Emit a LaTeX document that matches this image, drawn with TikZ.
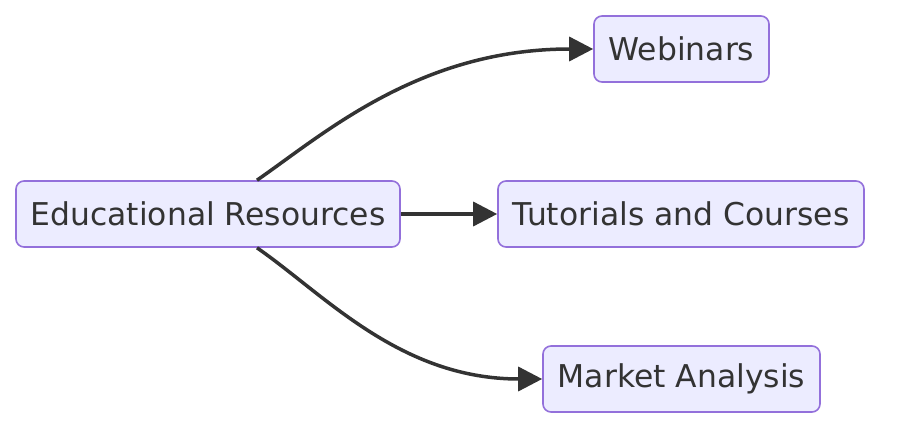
\documentclass[tikz,border=0pt]{standalone}
\usepackage{fontspec}
\setmainfont{DejaVu Sans}
\usetikzlibrary{arrows.meta}
\definecolor{nodefill}{HTML}{ECECFF}
\definecolor{nodeline}{HTML}{9370DB}
\definecolor{ink}{HTML}{333333}
\tikzset{
  box/.style={draw=nodeline, fill=nodefill, line width=1.6pt, rounded corners=8pt,
    minimum height=66pt, inner xsep=0pt, inner ysep=0pt, text=ink,
    font=\fontsize{31.4}{38}\selectfont},
  link/.style={draw=ink, line width=3.5pt, -{Triangle[length=24pt,width=24pt]}}
}
\begin{document}
\begin{tikzpicture}[x=1pt,y=-1pt]
\path[use as bounding box] (0,0) rectangle (898,436);
\node[box, minimum width=384pt] (edu) at (208,214) {Educational Resources};
\node[box, minimum width=175pt] (web) at (681.5,49) {Webinars};
\node[box, minimum width=366pt] (tut) at (681,214) {Tutorials and Courses};
\node[box, minimum width=277pt] (mkt) at (681.5,379) {Market Analysis};
\draw[link] ([xshift=49pt]edu.north) .. controls (325,133) and (420,49) .. (web.west);
\draw[link] (edu.east) -- (tut.west);
\draw[link] ([xshift=49pt]edu.south) .. controls (325,295) and (400,379) .. (mkt.west);
\end{tikzpicture}
\end{document}
